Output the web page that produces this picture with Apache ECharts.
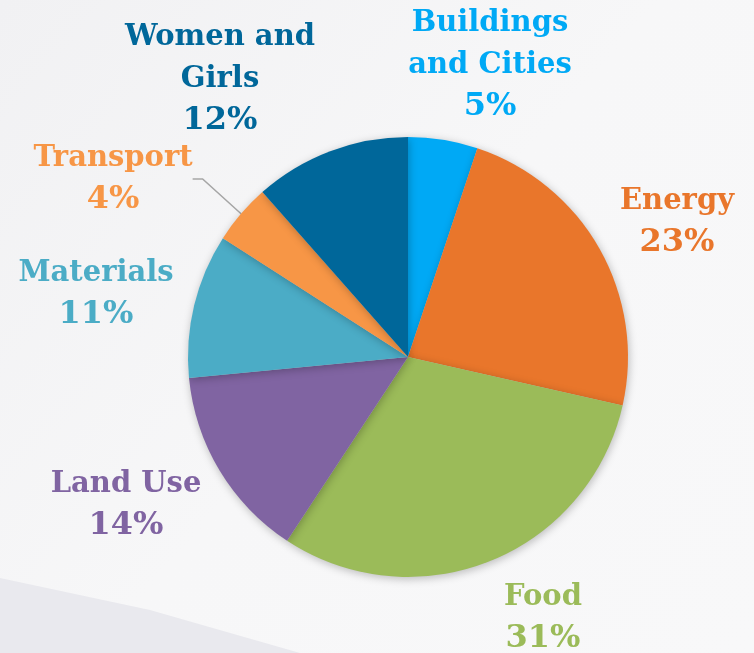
<!DOCTYPE html>
<html>
<head>
<meta charset="utf-8">
<script src="https://cdn.jsdelivr.net/npm/echarts@6/dist/echarts.min.js"></script>
<style>
  html, body { margin: 0; padding: 0; }
  #chart { width: 754px; height: 653px; }
</style>
</head>
<body>
<div id="chart"></div>
<script>
// slice names (clockwise from 12 o'clock)
var categories = ['Buildings\nand Cities', 'Energy', 'Food', 'Land Use', 'Materials', 'Transport', 'Women and\nGirls'];
// shares
var shares = [5.1, 23.4, 30.7, 14.2, 10.6, 4.4, 11.5];
var colors = ['#00A9F5', '#E9762B', '#9BBB59', '#8064A2', '#4BACC6', '#F79646', '#00679A'];

// where each label sits (centre of the text block)
var labelPos = [[490, 65], [677, 222], [543, 618], [126, 505], [96, 294], [113, 179], [220, 79]];

var myChart = echarts.init(document.getElementById('chart'));

var pieData = categories.map(function (name, i) {
  return {
    name: name,
    value: shares[i],
    itemStyle: { color: colors[i] },
    label: { color: colors[i] },
    labelLine: { show: i === 5 }
  };
});

var option = {
  backgroundColor: {
    type: 'linear', x: 0, y: 0, x2: 1, y2: 1,
    colorStops: [
      { offset: 0, color: '#f1f1f3' },
      { offset: 0.5, color: '#f7f7f8' },
      { offset: 1, color: '#f8f8f9' }
    ]
  },
  graphic: [{
    type: 'polygon',
    silent: true,
    z: -1,
    shape: { points: [[0, 578], [150, 610], [300, 653], [0, 653]] },
    style: { fill: '#e9e9ee' }
  }],
  series: [{
    type: 'pie',
    center: [408, 357],
    radius: [0, 220],
    startAngle: 90,
    clockwise: true,
    data: pieData,
    itemStyle: {
      shadowBlur: 8,
      shadowColor: 'rgba(0,0,0,0.25)',
      shadowOffsetX: 1,
      shadowOffsetY: 2
    },
    label: {
      show: true,
      position: 'outside',
      fontFamily: 'DejaVu Serif',
      fontWeight: 'bold',
      fontSize: 29,
      lineHeight: 42,
      align: 'center',
      formatter: function (p) {
        return p.name + '\n{pct|' + Math.round(p.percent) + '%}';
      },
      rich: {
        pct: {
          fontFamily: 'DejaVu Serif',
          fontWeight: 'bold',
          fontSize: 32,
          lineHeight: 42
        }
      }
    },
    labelLine: {
      length: 10,
      length2: 10,
      lineStyle: { color: '#a6a6a6', width: 1.5 }
    },
    labelLayout: function (params) {
      var pos = labelPos[params.dataIndex];
      return {
        x: pos[0],
        y: pos[1],
        align: 'center',
        verticalAlign: 'middle'
      };
    }
  }]
};

myChart.setOption(option);
</script>
</body>
</html>
